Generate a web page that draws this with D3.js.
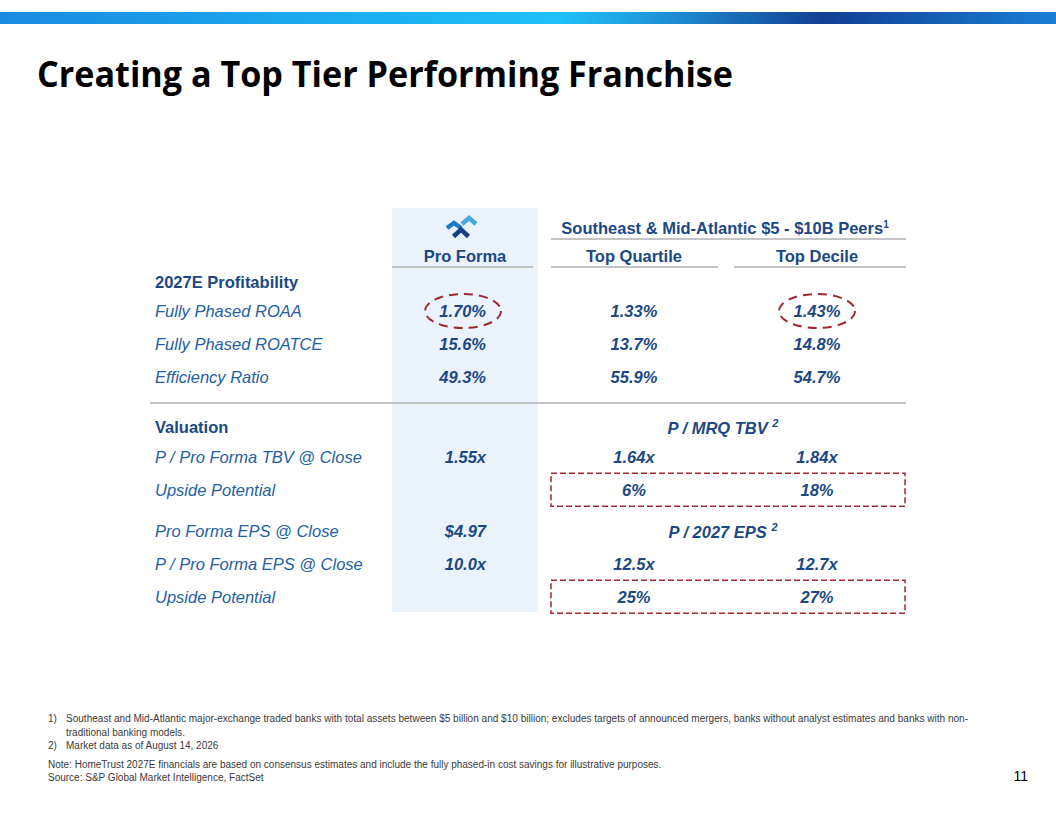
<!DOCTYPE html>
<html>
<head>
<meta charset="utf-8">
<script src="https://cdn.jsdelivr.net/npm/d3@7"></script>
<style>
  body { margin: 0; background: #fff; }
  svg { display: block; }
</style>
</head>
<body>
<svg id="slide" width="1056" height="816"></svg>
<script>
'use strict';

// table content
var columns = ['Pro Forma', 'Top Quartile', 'Top Decile'];
var peerTitle = 'Southeast & Mid-Atlantic $5 - $10B Peers';

var rowLabels = [
    '2027E Profitability', 'Fully Phased ROAA', 'Fully Phased ROATCE', 'Efficiency Ratio',
    'Valuation', 'P / Pro Forma TBV @ Close', 'Upside Potential',
    'Pro Forma EPS @ Close', 'P / Pro Forma EPS @ Close', 'Upside Potential'
];
var rowKinds = ['head', 'item', 'item', 'item', 'head', 'item', 'item', 'item', 'item', 'item'];

var proForma    = [null, '1.70%', '15.6%', '49.3%', null, '1.55x', null, '$4.97', '10.0x', null];
var topQuartile = [null, '1.33%', '13.7%', '55.9%', null, '1.64x', '6%',  null, '12.5x', '25%'];
var topDecile   = [null, '1.43%', '14.8%', '54.7%', null, '1.84x', '18%', null, '12.7x', '27%'];

var subHeads = [{ row: 4, text: 'P / MRQ TBV', sup: '2' }, { row: 7, text: 'P / 2027 EPS', sup: '2' }];
var circled = [{ row: 1, col: 'Pro Forma' }, { row: 1, col: 'Top Decile' }];
var boxedRows = [6, 9];

var footnotes = [
    ['1)', 'Southeast and Mid-Atlantic major-exchange traded banks with total assets between $5 billion and $10 billion; excludes targets of announced mergers, banks without analyst estimates and banks with non-'],
    ['', 'traditional banking models.'],
    ['2)', 'Market data as of August 14, 2026']
];
var notes = [
    'Note: HomeTrust 2027E financials are based on consensus estimates and include the fully phased-in cost savings for illustrative purposes.',
    'Source: S&P Global Market Intelligence, FactSet'
];

var navy = '#1b4884',
    labelBlue = '#2360a6',
    red = '#a1282f',
    rule = '#c4c4c4',
    font = '"Liberation Sans", Arial, sans-serif';

var svg = d3.select('#slide');

// top gradient bar
var defs = svg.append('defs');
var grad = defs.append('linearGradient').attr('id', 'bar');
[['0%', '#1a8ae0'], ['53%', '#1fc1fa'], ['62%', '#1f96d6'], ['78%', '#123f92'], ['100%', '#1a7fd6']]
    .forEach(function(s) {
        grad.append('stop').attr('offset', s[0]).attr('stop-color', s[1]);
    });
svg.append('rect')
    .attr('x', 0).attr('y', 12).attr('width', 1056).attr('height', 12)
    .attr('fill', 'url(#bar)');

// title
svg.append('text')
    .attr('x', 37).attr('y', 87)
    .attr('font-family', '"Open Sans", sans-serif')
    .attr('font-weight', 700)
    .attr('font-size', 35)
    .attr('textLength', 696)
    .attr('lengthAdjust', 'spacingAndGlyphs')
    .attr('fill', '#000')
    .text('Creating a Top Tier Performing Franchise');

// layout scales
var slots = [0.12, 1, 2, 3, 4.52, 5.42, 6.42, 7.66, 8.66, 9.66];
var y = d3.scaleLinear().domain([1, 2]).range([311, 344]);
var colX = d3.scaleOrdinal().domain(columns).range([463, 634, 817]);
var colAnchorX = d3.scaleOrdinal().domain(columns).range([486, 634, 817]);
var colAnchor = d3.scaleOrdinal().domain(columns).range(['end', 'middle', 'middle']);

// pro forma column shading
svg.append('rect')
    .attr('x', 392).attr('y', 208).attr('width', 146).attr('height', 404)
    .attr('fill', '#eaf3fc');

// logo: three chevrons
var chevrons = [
    { cx: 469, ay: 218, w: 7, h: 6, c: '#4da8e2' },
    { cx: 454, ay: 223, w: 7, h: 5, c: '#1b7bcb' },
    { cx: 461, ay: 229.5, w: 7.5, h: 7, c: '#173f86' }
];
svg.selectAll('path.chev')
    .data(chevrons)
    .join('path')
    .attr('class', 'chev')
    .attr('d', function(d) {
        return 'M' + (d.cx - d.w) + ',' + (d.ay + d.h) + 'L' + d.cx + ',' + d.ay +
            'L' + (d.cx + d.w) + ',' + (d.ay + d.h);
    })
    .attr('fill', 'none')
    .attr('stroke', function(d) { return d.c; })
    .attr('stroke-width', 4.5)
    .attr('stroke-linejoin', 'miter');

// headers
function headText(x, yy, txt, anchor) {
    return svg.append('text')
        .attr('x', x).attr('y', yy).attr('dy', '0.35em')
        .attr('text-anchor', anchor || 'middle')
        .attr('font-family', font).attr('font-weight', 700).attr('font-size', 16.5)
        .attr('fill', navy)
        .text(txt);
}
var peer = headText(725, 228, peerTitle);
peer.append('tspan').attr('dy', '-0.6em').attr('font-size', 10).text('1');

columns.forEach(function(c) {
    headText(colX(c) + (c === 'Pro Forma' ? 2 : 0), 256, c);
});

var rules = [
    [551, 906, 239], [392, 533, 267], [551, 718, 267], [734, 906, 267], [150, 906, 403]
];
svg.selectAll('line.rule')
    .data(rules)
    .join('line')
    .attr('class', 'rule')
    .attr('x1', function(d) { return d[0]; })
    .attr('x2', function(d) { return d[1]; })
    .attr('y1', function(d) { return d[2]; })
    .attr('y2', function(d) { return d[2]; })
    .attr('stroke', rule).attr('stroke-width', 2);

// row labels
svg.selectAll('text.label')
    .data(rowLabels)
    .join('text')
    .attr('class', 'label')
    .attr('x', 155)
    .attr('y', function(d, i) { return y(slots[i]); })
    .attr('dy', '0.35em')
    .attr('font-family', font)
    .attr('font-size', 16.5)
    .attr('font-weight', function(d, i) { return rowKinds[i] === 'head' ? 700 : 400; })
    .attr('font-style', function(d, i) { return rowKinds[i] === 'head' ? 'normal' : 'italic'; })
    .attr('fill', function(d, i) { return rowKinds[i] === 'head' ? navy : labelBlue; })
    .text(function(d) { return d; });

// values
var series = [proForma, topQuartile, topDecile];
var cells = [];
series.forEach(function(vals, ci) {
    vals.forEach(function(v, ri) {
        if (v !== null) cells.push({ col: columns[ci], row: ri, v: v });
    });
});
svg.selectAll('text.value')
    .data(cells)
    .join('text')
    .attr('class', 'value')
    .attr('x', function(d) { return colAnchorX(d.col); })
    .attr('y', function(d) { return y(slots[d.row]); })
    .attr('dy', '0.35em')
    .attr('text-anchor', function(d) { return colAnchor(d.col); })
    .attr('font-family', font)
    .attr('font-size', 16.5)
    .attr('font-weight', 700)
    .attr('font-style', 'italic')
    .attr('fill', navy)
    .text(function(d) { return d.v; });

// valuation sub-headers
subHeads.forEach(function(s) {
    var t = svg.append('text')
        .attr('x', 723).attr('y', y(slots[s.row]) + 1).attr('dy', '0.35em')
        .attr('text-anchor', 'middle')
        .attr('font-family', font).attr('font-size', 16.5)
        .attr('font-weight', 700).attr('font-style', 'italic')
        .attr('fill', navy)
        .text(s.text + ' ');
    t.append('tspan').attr('dy', '-0.6em').attr('font-size', 11).text(s.sup);
});

// dashed highlights
svg.selectAll('ellipse.circ')
    .data(circled)
    .join('ellipse')
    .attr('class', 'circ')
    .attr('cx', function(d) { return colX(d.col); })
    .attr('cy', function(d) { return y(slots[d.row]); })
    .attr('rx', 38).attr('ry', 17)
    .attr('fill', 'none')
    .attr('stroke', red).attr('stroke-width', 2)
    .attr('stroke-dasharray', '9,6');

svg.selectAll('rect.box')
    .data(boxedRows)
    .join('rect')
    .attr('class', 'box')
    .attr('x', 551).attr('width', 354)
    .attr('y', function(r) { return y(slots[r]) - 16.5; })
    .attr('height', 33)
    .attr('fill', 'none')
    .attr('stroke', red).attr('stroke-width', 1.5)
    .attr('stroke-dasharray', '6,3');

// footnotes
var foot = svg.append('g')
    .attr('font-family', font).attr('font-size', 10).attr('fill', '#3a3a3a');
var footY = [718, 732, 745];
footnotes.forEach(function(f, i) {
    foot.append('text').attr('x', 48).attr('y', footY[i]).attr('dy', '0.35em').text(f[0]);
    var t = foot.append('text').attr('x', 66).attr('y', footY[i]).attr('dy', '0.35em').text(f[1]);
    if (i === 0) t.attr('textLength', 902).attr('lengthAdjust', 'spacingAndGlyphs');
});
var noteY = [764, 777];
notes.forEach(function(n, i) {
    foot.append('text').attr('x', 48).attr('y', noteY[i]).attr('dy', '0.35em').text(n);
});

svg.append('text')
    .attr('x', 1028).attr('y', 776).attr('dy', '0.35em')
    .attr('text-anchor', 'end')
    .attr('font-family', font).attr('font-size', 14)
    .attr('fill', '#000')
    .text('11');
</script>
</body>
</html>
